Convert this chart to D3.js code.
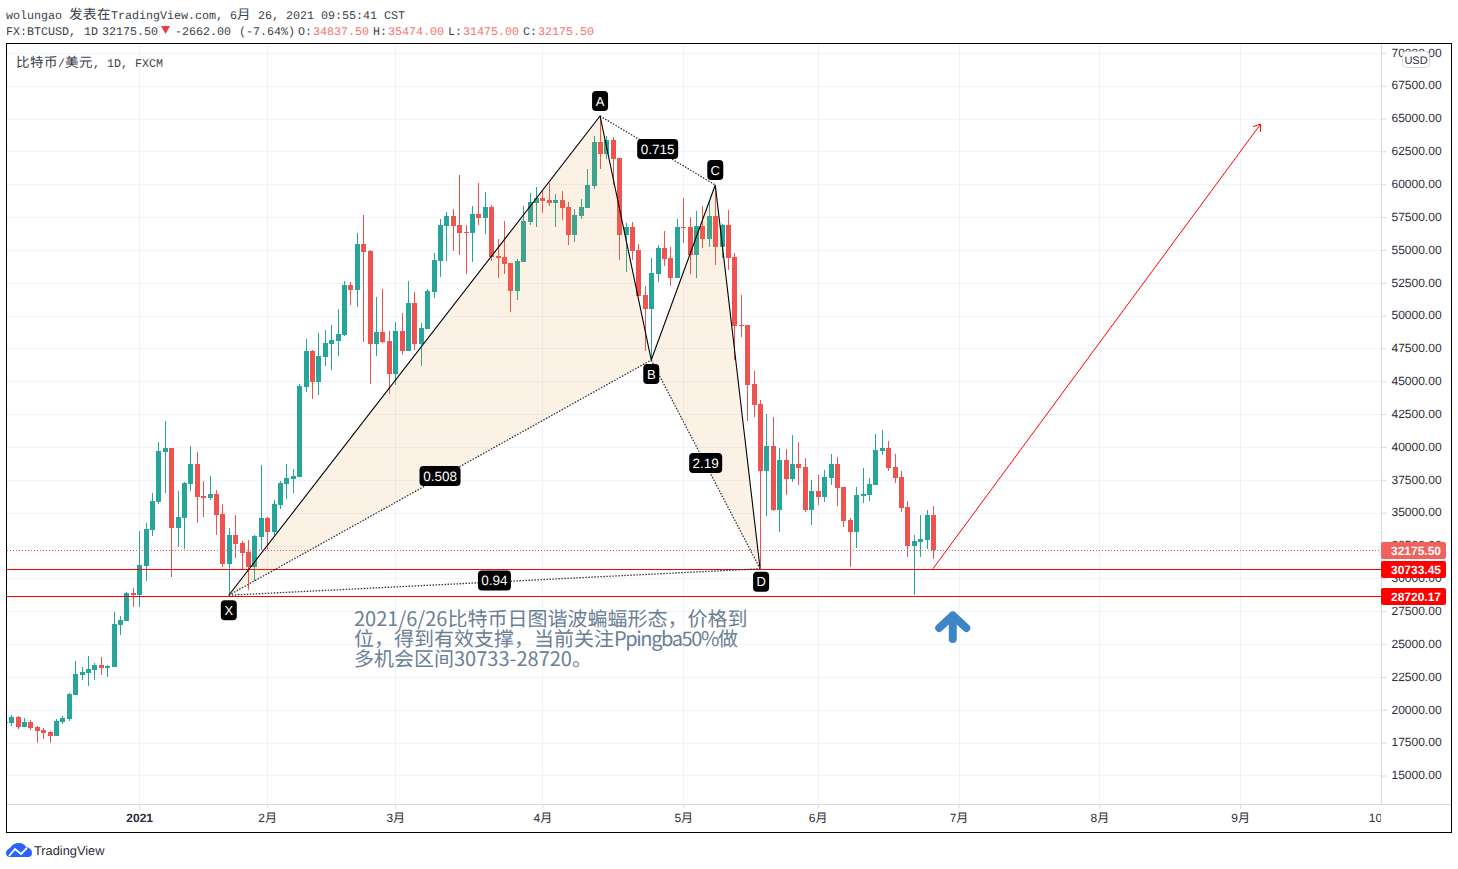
<!DOCTYPE html>
<html><head><meta charset="utf-8">
<script src="https://cdn.jsdelivr.net/npm/d3@7"></script>
<style>
html,body{margin:0;padding:0;background:#fff}
svg{display:block}
text{text-rendering:geometricPrecision}
</style></head><body>
<svg id="c" width="1458" height="869"></svg>
<script>
// ---- data: daily (weekday) bars, first bar is index -21, 2021-01-01 is index 0
const firstIndex = -21;
const opens = [18969,18995,19451,18690,19070,18690,18462,18310,18005,19070,19299,21126,22648,22800,23028,23409,23180,23256,26453,26758,28889,
28737,30944,33684,35815,39620,39925,33836,34597,37185,38707,36272,36119,36424,34901,31096,33303,32694,32009,30868,
33151,34597,33531,35586,37185,37565,37717,44565,47305,44946,46849,47838,48066,48523,52328,51948,55449,54916,47838,48751,48066,
45555,48827,47305,50959,47838,48979,51796,54155,56819,57580,56895,56362,56286,57731,57427,58264,54535,54459,53982,51871,54078,57123,58569,
58949,58797,58569,58797,58264,56133,57579,58188,59863,63212,62298,63364,61994,56133,56742,54992,51567,50501,53165,55144,54384,52861,
56743,56743,54612,56819,55830,57580,55221,56895,54460,49284,49284,44794,43271,38172,40075,35204,39012,37566,38707,38479,35206,
36652,36196,37642,38707,36957,34445,33532,36272,36348,37109,39697,39925,38479,37718,35434,32466,32771,32923,34837.5];
const highs = [19223,19603,19527,19375,19223,18767,18614,18386,19299,19527,21278,23713,23257,24094,23561,24018,23409,27443,27138,28965,29269,
33608,34217,36500,40381,41980,39925,36652,37337,40077,39620,37413,37794,36728,35662,33836,34826,32846,32923,33303,
38631,34673,35967,37413,38707,38326,44796,48218,47381,48675,48903,49284,50502,52633,52557,56286,57656,54992,51415,52024,48827,
49512,50197,52633,51796,49436,52024,54764,57352,57884,58113,60700,56895,58340,60091,59406,58417,55829,57199,53992,54306,58340,59330,59786,
59558,60091,59254,59482,58645,58112,58873,61156,63668,65190,63668,63592,61994,57047,57123,55448,52252,54383,55372,56438,55221,57352,
58950,57504,57961,58341,58722,59800,56971,58037,54764,51568,49284,45783,43576,42510,42282,39923,39849,40914,40382,39164,37489,
37870,38251,39468,39240,36957,34597,36957,38403,37642,40990,41295,40458,39468,38174,35891,33303,34826,35206,35474];
const lows = [18842,18792,18538,18690,18462,17472,17777,17472,18005,18918,19147,21126,22267,21811,22267,22648,22495,23256,25692,26758,27823,
27823,29802,33227,35663,36500,30107,32390,32237,36652,34217,34673,35967,33303,30868,28737,31553,30716,29117,29802,
32161,32161,33303,35282,36043,36500,37717,44184,43652,43956,46163,45859,46924,48447,50806,50654,47990,44793,46924,47914,44033,
44718,47001,47305,47381,46163,48979,51339,52937,54155,54916,54612,53166,54078,56894,56209,54154,52860,53165,50273,51186,54078,56894,56742,
57808,58340,56742,57275,55372,55600,57351,58188,59634,61156,61918,59939,54230,53317,54230,51490,47305,46696,52556,53774,52252,52861,
55525,53166,52861,55145,55221,53851,54384,53470,46620,48371,41978,42282,30868,34747,35128,33529,36348,37337,37109,35054,34064,
35587,35815,37109,35511,33912,30868,32314,35739,35891,37109,39392,38174,37261,35054,31629,28720,31629,32238,31475];
const closes = [19096,19451,18690,19070,18614,18386,18234,18005,19147,19375,21202,22724,22876,23104,23409,23180,23333,26529,26834,28889,28737,
31020,33760,35891,39696,39925,33836,34673,37261,38707,36195,36119,36424,34826,31096,33303,32618,31933,30868,33227,
34597,33531,35662,37261,37641,37793,44643,47305,44946,46925,47914,48142,48599,52328,51948,55449,54840,47838,48751,47990,45555,
48827,47305,50959,47838,49056,51872,54231,56895,57580,56819,56286,56286,57731,57427,58264,54459,54383,53926,51871,54154,57199,58645,58949,
58721,58569,58797,58188,56133,57655,58264,59939,63212,62298,63364,61918,56133,56742,54915,51490,50501,53241,55144,54306,52861,56743,
56667,54612,56819,55830,57580,55221,56895,54384,49208,49208,44718,43195,38172,40075,35204,39009,37566,38707,38403,35206,36652,
36196,37718,38707,36881,34369,33532,36348,36424,37185,39773,39925,38403,37642,35358,32466,32847,32999,34826,32175.5];

const priceTicks = [15000,17500,20000,22500,25000,27500,30000,32500,35000,37500,40000,42500,45000,47500,50000,52500,55000,57500,60000,62500,65000,67500,70000];
const timeTickIndex = [0,20,40,63,85,106,128,150,172,194];
const timeTickLabel = ["2021","2月","3月","4月","5月","6月","7月","8月","9月","10月"];

const patternNames = ["X","A","B","C","D"];
const patternIndex = [14,72,80,90,97];
const patternPrice = [28720,65190,46620,59940,30733];
const ratioPairs = [[0,2],[1,3],[2,4],[0,4]];
const ratioLabels = ["0.508","0.715","2.19","0.94"];

const hLevels = [30733.45,28720.17];
const lastClose = 32175.50;
const arrowIndex = [124,175.2];
const arrowPrice = [30733,64580];
const upArrowIndex = 127.1, upArrowPrice = 26230;
const noteLines = ["2021/6/26比特币日图谐波蝙蝠形态，价格到","位，得到有效支撑，当前关注Ppingba50%做","多机会区间30733-28720。"];

// ---- layout
const L=7,R=1381,T=44,B=804,OUTR=1451,OUTB=832;
const UP="#26a69a",DN="#ef5350",GRID="#f0f3fa",SEP="#d6d8dc",TXT="#2a2e39";
const x=d3.scaleLinear().domain([-20.65,194]).range([L,R]);
const y=d3.scaleLinear().domain([12831,70670]).range([B,T]);
const levelY=p=>Math.ceil(y(p))+.5;
const svg=d3.select("#c");
const SANS="'Liberation Sans',Arial,sans-serif", CJK="'Noto Sans CJK SC',sans-serif", MONO="'Liberation Mono',monospace";
const defs=svg.append("defs");
defs.append("clipPath").attr("id","plot").append("rect").attr("x",L).attr("y",T).attr("width",R-L).attr("height",B-T);
defs.append("clipPath").attr("id","timeclip").append("rect").attr("x",L).attr("y",B).attr("width",R-L).attr("height",OUTB-B);

// mono-pitch text: latin 7px, CJK 14px
function pitch(s,px,py,fill,g){
  let cx=px;
  for(const run of s.match(/[\u3000-\u9fff\uff00-\uffef]+|[^\u3000-\u9fff\uff00-\uffef]+/g)){
    const cj=/[\u3000-\u9fff\uff00-\uffef]/.test(run[0]);
    const xs=[...run].map((c,k)=>cx+k*(cj?14:7)).join(" ");
    g.append("text").attr("x",xs).attr("y",py).attr("fill",fill).style("white-space","pre")
     .attr("font-family",cj?CJK:MONO).attr("font-size",cj?13.5:11.7).text(run);
    cx+=run.length*(cj?14:7);
  }
  return cx;
}
const hd=svg.append("g");
pitch("wolungao 发表在TradingView.com, 6月 26, 2021 09:55:41 CST",6,19,"#3a3f4a",hd);
pitch("FX:BTCUSD,",6,35,"#3a3f4a",hd);
pitch("1D",84,35,"#3a3f4a",hd);
pitch("32175.50",102,35,"#3a3f4a",hd);
hd.append("path").attr("d","M161 26h9l-4.5 8z").attr("fill","#ef3b3b");
pitch("-2662.00",175,35,"#3a3f4a",hd);
pitch("(-7.64%)",239,35,"#3a3f4a",hd);
[["O:",298,"34837.50",313],["H:",373,"35474.00",388],["L:",448,"31475.00",463],["C:",523,"32175.50",538]].forEach(d=>{
  pitch(d[0],d[1],35,"#3a3f4a",hd); pitch(d[2],d[3],35,"#f4736f",hd);
});

// grid
const grid=svg.append("g").attr("clip-path","url(#plot)");
grid.selectAll("line.h").data(priceTicks).join("line")
  .attr("x1",L).attr("x2",R).attr("y1",d=>Math.round(y(d))+.5).attr("y2",d=>Math.round(y(d))+.5).attr("stroke",GRID);
grid.selectAll("line.v").data(timeTickIndex).join("line")
  .attr("y1",T).attr("y2",B).attr("x1",d=>Math.round(x(d))+.5).attr("x2",d=>Math.round(x(d))+.5).attr("stroke",GRID);

// candles
const bars=d3.range(opens.length).map(k=>({i:firstIndex+k,o:opens[k],h:highs[k],l:lows[k],c:closes[k]}));
const cg=svg.append("g").attr("clip-path","url(#plot)").attr("shape-rendering","crispEdges");
const col=d=>d.c>=d.o?UP:DN;
cg.selectAll("rect.w").data(bars).join("rect")
  .attr("x",d=>Math.round(x(d.i))).attr("width",1)
  .attr("y",d=>Math.round(y(d.h))).attr("height",d=>Math.max(1,Math.round(y(d.l))-Math.round(y(d.h))))
  .attr("fill",col);
cg.selectAll("rect.b").data(bars).join("rect")
  .attr("x",d=>Math.round(x(d.i))-2).attr("width",5)
  .attr("y",d=>Math.round(y(Math.max(d.o,d.c))))
  .attr("height",d=>Math.max(1,Math.round(y(Math.min(d.o,d.c)))-Math.round(y(Math.max(d.o,d.c)))))
  .attr("fill",col);

// drawings
const dr=svg.append("g").attr("clip-path","url(#plot)");
dr.append("line").attr("x1",L).attr("x2",R).attr("y1",levelY(lastClose)).attr("y2",levelY(lastClose))
  .attr("stroke",DN).attr("stroke-dasharray","1 2");
dr.selectAll("line.lv").data(hLevels).join("line").attr("x1",L).attr("x2",R)
  .attr("y1",levelY).attr("y2",levelY).attr("stroke","#ff0000");
const P=k=>[x(patternIndex[k]),y(patternPrice[k])];
const line=d3.line();
[[0,1,2],[2,3,4]].forEach(t=>dr.append("path").attr("d",line(t.map(P))+"Z").attr("fill","#e69138").attr("fill-opacity",.13));
dr.append("path").attr("d",line([0,1,2,3,4].map(P))).attr("fill","none").attr("stroke","#000").attr("stroke-width",1.1);
ratioPairs.forEach(p=>dr.append("path").attr("d",line(p.map(P))).attr("fill","none").attr("stroke","#333").attr("stroke-width",1.3).attr("stroke-dasharray","1.5 1.5"));
// red target arrow
const a0=[x(arrowIndex[0]),y(arrowPrice[0])],a1=[x(arrowIndex[1]),y(arrowPrice[1])];
dr.append("path").attr("d",line([a0,a1])).attr("stroke","#ff0000").attr("fill","none");
const ang=Math.atan2(a1[1]-a0[1],a1[0]-a0[0]);
const head=s=>[a1[0]-8*Math.cos(ang+s),a1[1]-8*Math.sin(ang+s)];
dr.append("path").attr("d",line([head(.6),a1,head(-.6)])).attr("stroke","#ff0000").attr("fill","none");
// blue up-arrow
const ua=[x(upArrowIndex),y(upArrowPrice)];
dr.append("path").attr("transform",`translate(${ua[0]},${ua[1]})`)
  .attr("d","M0 11V-12.5M-13.5 0L0 -12.5L13.5 0").attr("fill","none").attr("stroke","#3d85c6").attr("stroke-width",8).attr("stroke-linecap","round").attr("stroke-linejoin","round");
// note text
const note=dr.append("text").attr("fill","#6b8096").attr("font-family",CJK).attr("font-size",20);
noteLines.forEach((s,k)=>{
  s.split(/(Ppingba50%)/).forEach((part,j)=>{
    const t=note.append("tspan").text(part);
    if(j==0) t.attr("x",354).attr("y",626+k*20);
    if(part=="Ppingba50%") t.attr("letter-spacing",-1.4);
  });
});

// point + ratio labels
function badge(cx,cy,w,h,s,size){
  const g=svg.append("g");
  g.append("rect").attr("x",cx-w/2).attr("y",cy-h/2).attr("width",w).attr("height",h).attr("rx",4).attr("fill","#000");
  g.append("text").attr("x",cx).attr("y",cy+size*.36).attr("text-anchor","middle").attr("fill","#fff")
    .attr("font-family",SANS).attr("font-size",size).text(s);
}
ratioPairs.forEach((p,k)=>{
  const a=P(p[0]),b=P(p[1]);
  badge((a[0]+b[0])/2,(a[1]+b[1])/2-1.5,ratioLabels[k].length*8+1,20,ratioLabels[k],13.5);
});
const off=[15,-15,14,-15,13];
patternNames.forEach((n,k)=>{const p=P(k);badge(p[0]+(k==4?1:0),p[1]+off[k],16,20,n,13);});

// axes
const ya=d3.axisRight(y).tickValues(priceTicks).tickFormat(d=>d.toFixed(2)).tickSize(5).tickPadding(5);
const yg=svg.append("g").attr("transform",`translate(${R+.5},0)`);
yg.call(ya);
yg.select(".domain").remove();
yg.selectAll("line").attr("stroke",SEP);
yg.selectAll("text").attr("font-family",SANS).attr("font-size",12).attr("fill",TXT).attr("dy","0.27em");
const xa=d3.axisBottom(x).tickValues(timeTickIndex).tickFormat((d,k)=>timeTickLabel[k]).tickSize(4).tickPadding(5);
const xwrap=svg.append("g").attr("clip-path","url(#timeclip)");
const xg=xwrap.append("g").attr("transform",`translate(0,${B+.5})`);
xg.call(xa);
xg.select(".domain").remove();
xg.selectAll("line").attr("stroke",SEP);
xg.selectAll("text").attr("font-family",`'Liberation Sans','Noto Sans CJK SC',sans-serif`).attr("font-size",12).attr("fill",TXT)
  .attr("font-weight",(d,k)=>k==0?700:400);

// frame
svg.append("line").attr("x1",R+.5).attr("x2",R+.5).attr("y1",T).attr("y2",B).attr("stroke",SEP);
svg.append("line").attr("x1",L).attr("x2",OUTR).attr("y1",B+.5).attr("y2",B+.5).attr("stroke",SEP);
svg.append("rect").attr("x",6.5).attr("y",43.5).attr("width",OUTR-6).attr("height",OUTB-43).attr("fill","none").attr("stroke","#000");

// title
pitch("比特币/美元, 1D, FXCM",16,67,"#3a3f4a",svg.append("g"));

// price tags
const tags=[[lastClose,"#f0625e"],[hLevels[0],"#ff0000"],[hLevels[1],"#ff0000"]];
tags.forEach(t=>{
  const cy=levelY(t[0]);
  const g=svg.append("g");
  g.append("rect").attr("x",R).attr("y",cy-8.5).attr("width",65).attr("height",17).attr("rx",2).attr("fill",t[1]);
  g.append("text").attr("x",R+35).attr("y",cy+4.5).attr("text-anchor","middle").attr("fill","#fff")
   .attr("font-family",SANS).attr("font-size",12).attr("font-weight",700).text(t[0].toFixed(2));
});
// USD box
const ub=svg.append("g");
ub.append("rect").attr("x",1402.5).attr("y",51.5).attr("width",27).attr("height",16).attr("rx",4).attr("fill","#fff").attr("stroke","#d6d8dc");
ub.append("text").attr("x",1416).attr("y",64).attr("text-anchor","middle").attr("font-family",SANS).attr("font-size",11).attr("fill",TXT).text("USD");

// logo
const lg=svg.append("g");
lg.append("path").attr("d","M6 853Q6 850 10 848Q13 843 19 843Q24 843 26 847Q32 848 32 853Q32 857 28 857L10 857Q6 857 6 853Z").attr("fill","#2962ff");
lg.append("path").attr("d","M9 856L15 849L21 854L27 848").attr("fill","none").attr("stroke","#fff").attr("stroke-width",1.8);
lg.append("text").attr("x",34).attr("y",855).attr("font-family",SANS).attr("font-size",12.8).attr("fill","#2a2e39").text("TradingView");
</script>
</body></html>
